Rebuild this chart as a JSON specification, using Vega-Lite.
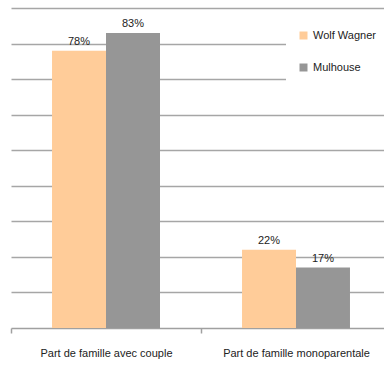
{
  "$schema": "https://vega.github.io/schema/vega-lite/v6.json",
  "width": 380,
  "height": 320,
  "autosize": {"type": "none"},
  "padding": {"left": 11, "top": 8, "right": 0, "bottom": 39},
  "background": "white",
  "config": {
    "view": {"stroke": null},
    "font": "Liberation Sans Narrow, Liberation Sans, Arial, sans-serif"
  },
  "data": {
    "values": [
      {"categorie": "Part de famille avec couple", "zone": "Wolf Wagner", "valeur": 0.78},
      {"categorie": "Part de famille avec couple", "zone": "Mulhouse", "valeur": 0.83},
      {"categorie": "Part de famille monoparentale", "zone": "Wolf Wagner", "valeur": 0.22},
      {"categorie": "Part de famille monoparentale", "zone": "Mulhouse", "valeur": 0.17}
    ]
  },
  "encoding": {
    "x": {
      "field": "categorie",
      "type": "nominal",
      "sort": null,
      "scale": {"paddingInner": 0, "paddingOuter": 0},
      "axis": {
        "title": null,
        "labelAngle": 0,
        "labelFontSize": 11,
        "labelColor": "#222222",
        "labelPadding": 14,
        "tickSize": 5,
        "tickColor": "#A0A0A0",
        "domainColor": "#A0A0A0",
        "domainWidth": 1.5,
        "tickWidth": 1.5,
        "tickBand": "extent",
        "grid": false
      }
    },
    "xOffset": {
      "field": "zone",
      "type": "nominal",
      "sort": ["Wolf Wagner", "Mulhouse"],
      "scale": {"paddingInner": 0, "paddingOuter": 0.76}
    },
    "y": {
      "field": "valeur",
      "type": "quantitative",
      "scale": {"domain": [0, 0.9], "nice": false},
      "axis": {
        "title": null,
        "labels": false,
        "ticks": false,
        "domain": false,
        "values": [0.1, 0.2, 0.3, 0.4, 0.5, 0.6, 0.7, 0.8, 0.9],
        "gridColor": "#A6A6A6",
        "gridWidth": 1.5
      }
    }
  },
  "layer": [
    {
      "mark": {"type": "bar"},
      "encoding": {
        "color": {
          "field": "zone",
          "type": "nominal",
          "sort": ["Wolf Wagner", "Mulhouse"],
          "scale": {"domain": ["Wolf Wagner", "Mulhouse"], "range": ["#FFCC99", "#969696"]},
          "legend": {
            "title": null,
            "orient": "none",
            "legendX": 275,
            "legendY": 10,
            "fillColor": "white",
            "padding": 12,
            "symbolType": "square",
            "symbolSize": 64,
            "symbolStrokeWidth": 0,
            "labelFontSize": 11,
            "labelColor": "#222222",
            "labelOffset": 4,
            "rowPadding": 20
          }
        }
      }
    },
    {
      "mark": {"type": "text", "baseline": "bottom", "dy": -4, "fontSize": 11, "color": "#222222"},
      "encoding": {
        "text": {"field": "valeur", "type": "quantitative", "format": ".0%"},
        "detail": {"field": "zone"}
      }
    }
  ]
}
